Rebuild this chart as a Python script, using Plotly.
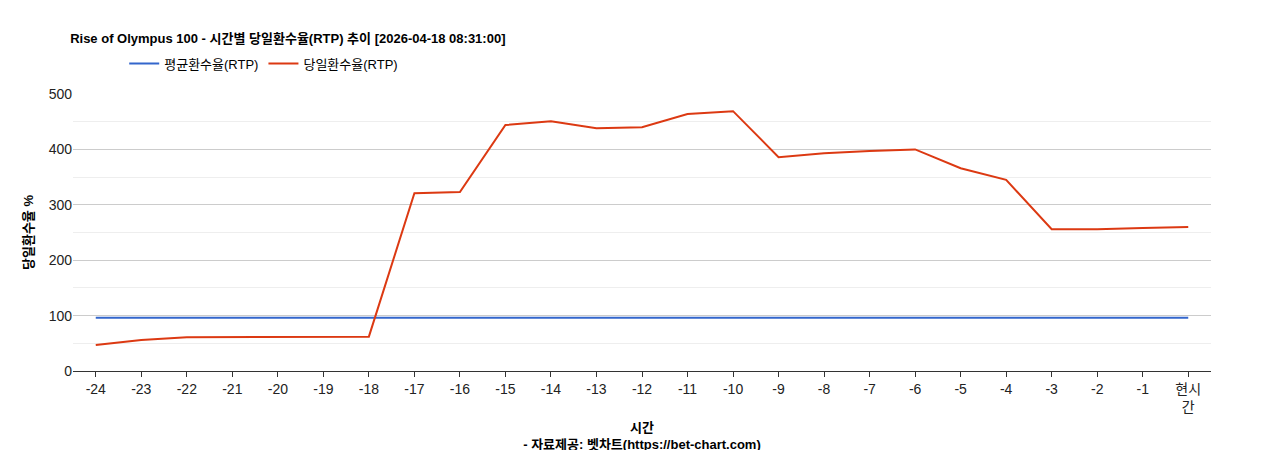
import plotly.graph_objects as go

categories = [str(i) for i in range(-24, 0)] + ["현시<br>간"]
daily_rtp = [47, 56, 61, 61, 61, 62, 62, 321, 323, 444, 451, 438, 440, 464, 469,
             386, 393, 397, 400, 366, 345, 256, 256, 258, 260]
avg_rtp = [96] * 25

fig = go.Figure()
fig.add_trace(go.Scatter(x=categories, y=avg_rtp, mode="lines", name="평균환수율(RTP)",
                         line=dict(color="#3366cc", width=2)))
fig.add_trace(go.Scatter(x=categories, y=daily_rtp, mode="lines", name="당일환수율(RTP)",
                         line=dict(color="#dc3912", width=2)))
font = "Liberation Sans, Arial, Noto Sans CJK KR"
fig.update_layout(
    width=1268, height=450, margin=dict(l=65, r=65, t=86, b=87, autoexpand=False),
    plot_bgcolor="white", paper_bgcolor="white",
    font=dict(family=font, size=14, color="#222"),
    title=dict(text="<b>Rise of Olympus 100 - 시간별 당일환수율(RTP) 추이 [2026-04-18 08:31:00]</b>",
               x=0.049, xanchor="left", y=0.933, yanchor="middle", font=dict(size=13, color="#000")),
    legend=dict(orientation="h", x=0.045, xanchor="left", y=1.11, yanchor="middle",
                font=dict(size=13, color="#000"), traceorder="normal"),
    showlegend=True,
)
fig.update_xaxes(type="category", range=[-0.5, 24.5], showgrid=False,
                 showline=True, linecolor="#333", ticks="outside", ticklen=5, tickcolor="#333",
                 title=dict(text="<b>시간</b><br><b>- 자료제공: 벳차트(https://bet-chart.com)</b>",
                            font=dict(size=13, color="#000"), standoff=8))
fig.update_yaxes(range=[0, 500], dtick=100, gridcolor="#cccccc", zeroline=False,
                 minor=dict(dtick=50, showgrid=True, gridcolor="#eeeeee"),
                 title=dict(text="<b>당일환수율 %</b>", font=dict(size=13, color="#000"), standoff=12))
fig.write_html("out.html")
